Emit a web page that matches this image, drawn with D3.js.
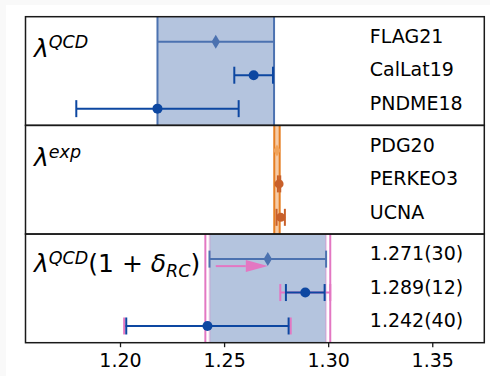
<!DOCTYPE html>
<html>
<head>
<meta charset="utf-8">
<script src="https://cdn.jsdelivr.net/npm/d3@7"></script>
<style>
  html, body { margin: 0; padding: 0; background: #f9f9f9; }
  svg { display: block; }
  text { font-family: "DejaVu Sans", sans-serif; fill: #000; }
</style>
</head>
<body>
<svg id="chart" width="490" height="376"></svg>
<script>
// ---- data ----------------------------------------------------------------
// lattice QCD determinations of g_A
const qcdNames = ["FLAG21", "CalLat19", "PNDME18"];
const qcdVals  = [1.246, 1.2642, 1.218];
const qcdErrs  = [0.028, 0.0093, 0.039];

// experimental lambda
const expNames = ["PDG20", "PERKEO3", "UCNA"];
const expVals  = [1.2754, 1.27641, 1.2772];
const expErrs  = [0.0013, 0.00056, 0.0020];

// lattice values including radiative correction
const rcLabels   = ["1.271(30)", "1.289(12)", "1.242(40)"];
const rcVals     = [1.271, 1.289, 1.242];
const rcQcdErrs  = [0.028, 0.0093, 0.039];   // lattice part only
const rcTotErrs  = [0.030, 0.012, 0.040];    // total uncertainty

const xTicks = [1.20, 1.25, 1.30, 1.35];
const xDomain = [1.1546, 1.375];

// ---- colours ---------------------------------------------------------------
const C_BLUE = "#4c72b0", C_DARK = "#0d47a1";
const C_ORANGE = "#e67e22", C_ORDARK = "#c8602a", C_ORLIGHT = "#f0a35c";
const C_PINK = "#e377c2";

// ---- layout ----------------------------------------------------------------
const svg = d3.select("#chart");
svg.append("rect").attr("x", 6).attr("y", 5).attr("width", 484).attr("height", 371).attr("fill", "#fff");

const L = 25.5, R = 484.3, T = 16.7, B = 342.7;
const panelH = (B - T) / 3;
const x = d3.scaleLinear().domain(xDomain).range([L, R]);
const labelX = x(1.32);

function panelY(i) {
  const top = T + i * panelH;
  return d3.scaleLinear().domain([-0.75, 2.5]).range([top, top + panelH]);
}

const capH = 8.5;

function errorbar(g, y, v, e, color, opts = {}) {
  const lw = opts.lw || 2;
  g.append("line").attr("x1", x(v - e)).attr("x2", x(v + e)).attr("y1", y).attr("y2", y)
    .attr("stroke", color).attr("stroke-width", lw);
  if (opts.caps !== false) {
    [v - e, v + e].forEach(c => g.append("line").attr("x1", x(c)).attr("x2", x(c))
      .attr("y1", y - capH).attr("y2", y + capH).attr("stroke", color).attr("stroke-width", lw));
  }
}
function marker(g, y, v, color, shape, size) {
  if (shape === "circle") {
    g.append("circle").attr("cx", x(v)).attr("cy", y).attr("r", size).attr("fill", color);
  } else {
    const w = size * 0.6, h = size;
    const cx = x(v);
    g.append("path").attr("d", `M${cx},${y - h}L${cx + w},${y}L${cx},${y + h}L${cx - w},${y}Z`).attr("fill", color);
  }
}
function band(g, i, lo, hi, fill, opacity, edge) {
  const top = T + i * panelH;
  g.append("rect").attr("x", x(lo)).attr("y", top).attr("width", x(hi) - x(lo)).attr("height", panelH)
    .attr("fill", fill).attr("fill-opacity", opacity);
  if (edge) {
    [lo, hi].forEach(c => g.append("line").attr("x1", x(c)).attr("x2", x(c)).attr("y1", top).attr("y2", top + panelH)
      .attr("stroke", edge.color).attr("stroke-width", edge.width).attr("stroke-opacity", edge.opacity || 1));
  }
}
function mathLabel(i, parts, dyBase) {
  const t = svg.append("text").attr("x", L + 8.5).attr("y", T + i * panelH + dyBase);
  parts.forEach(p => {
    const s = t.append("tspan").text(p.t).style("font-size", p.size + "px");
    if (p.italic) s.style("font-style", "italic");
    if (p.dy) s.attr("dy", p.dy);
  });
}

// ---- panel 1 : lattice QCD ------------------------------------------------
{
  const g = svg.append("g");
  const y = panelY(0);
  band(g, 0, qcdVals[0] - qcdErrs[0], qcdVals[0] + qcdErrs[0], C_BLUE, 0.42, { color: C_BLUE, width: 2 });
  errorbar(g, y(0), qcdVals[0], qcdErrs[0], C_BLUE, { caps: false });
  marker(g, y(0), qcdVals[0], C_BLUE, "diamond", 7);
  [1, 2].forEach(k => {
    errorbar(g, y(k), qcdVals[k], qcdErrs[k], C_DARK);
    marker(g, y(k), qcdVals[k], C_DARK, "circle", 5);
  });
  qcdNames.forEach((n, k) => svg.append("text").attr("x", labelX).attr("y", y(k) + 1).style("font-size", "19px").text(n));
}

// ---- panel 2 : experiment ---------------------------------------------------
{
  const g = svg.append("g");
  const y = panelY(1);
  band(g, 1, expVals[0] - expErrs[0], expVals[0] + expErrs[0], C_ORANGE, 0.4, { color: C_ORANGE, width: 2 });
  errorbar(g, y(0), expVals[0], expErrs[0], C_ORLIGHT, { caps: false });
  marker(g, y(0), expVals[0], C_ORLIGHT, "diamond", 6);
  [1, 2].forEach(k => {
    errorbar(g, y(k), expVals[k], expErrs[k], C_ORDARK);
    marker(g, y(k), expVals[k], C_ORDARK, "circle", 4.5);
  });
  expNames.forEach((n, k) => svg.append("text").attr("x", labelX).attr("y", y(k) + 1.5).style("font-size", "19px").text(n));
}

// ---- panel 3 : with radiative correction ------------------------------------
{
  const g = svg.append("g");
  const y = panelY(2);
  band(g, 2, rcVals[0] - rcQcdErrs[0], rcVals[0] + rcQcdErrs[0], C_BLUE, 0.42, { color: C_PINK, width: 2, opacity: 0.3 });
  // total uncertainty of the corrected average
  [rcVals[0] - rcTotErrs[0], rcVals[0] + rcTotErrs[0]].forEach(c =>
    g.append("line").attr("x1", x(c)).attr("x2", x(c)).attr("y1", T + 2 * panelH).attr("y2", B)
      .attr("stroke", C_PINK).attr("stroke-width", 2));

  errorbar(g, y(0), rcVals[0], rcQcdErrs[0], C_BLUE);
  marker(g, y(0), rcVals[0], C_BLUE, "diamond", 7);

  // shift from the uncorrected average
  const ay = y(0) + 7;
  const tip = x(rcVals[0]), headL = 22, headW = 6;
  g.append("line").attr("x1", x(qcdVals[0])).attr("x2", tip - headL).attr("y1", ay).attr("y2", ay)
    .attr("stroke", C_PINK).attr("stroke-width", 2);
  g.append("path").attr("d", `M${tip},${ay}L${tip - headL},${ay - headW}L${tip - headL},${ay + headW}Z`).attr("fill", C_PINK);

  [1, 2].forEach(k => {
    errorbar(g, y(k), rcVals[k], rcTotErrs[k], C_PINK);
    errorbar(g, y(k), rcVals[k], rcQcdErrs[k], C_DARK);
    marker(g, y(k), rcVals[k], C_DARK, "circle", 5);
  });
  rcLabels.forEach((n, k) => svg.append("text").attr("x", labelX).attr("y", y(k) + 1).style("font-size", "19px").text(n));
}

// ---- panel titles -------------------------------------------------------------
const base = 25, sup = 17.5;
mathLabel(0, [{ t: "λ", size: base, italic: true }, { t: "QCD", size: sup, italic: true, dy: -8.5 }], 40);
mathLabel(1, [{ t: "λ", size: base, italic: true }, { t: "exp", size: sup, italic: true, dy: -8.5 }], 40.7);
mathLabel(2, [
  { t: "λ", size: base, italic: true },
  { t: "QCD", size: sup, italic: true, dy: -8.5 },
  { t: "(1 + ", size: base, dy: 8.5 },
  { t: "δ", size: base, italic: true },
  { t: "RC", size: sup, italic: true, dy: 5 },
  { t: ")", size: base, dy: -5 }
], 38);

// ---- frames ---------------------------------------------------------------------
for (let i = 0; i < 3; i++) {
  svg.append("rect").attr("x", L).attr("y", T + i * panelH).attr("width", R - L).attr("height", panelH)
    .attr("fill", "none").attr("stroke", "#1a1a1a").attr("stroke-width", 1.5);
}

// ---- x axis -------------------------------------------------------------------------
const ax = svg.append("g").attr("transform", `translate(0,${B})`)
  .call(d3.axisBottom(x).tickValues(xTicks).tickFormat(d3.format(".2f")).tickSize(4.5));
ax.select(".domain").remove();
ax.selectAll(".tick line").attr("stroke", "#1a1a1a").attr("stroke-width", 1.3);
ax.selectAll(".tick text").attr("y", 24.6).attr("dy", null)
  .style("font-size", "19px").style("font-family", "DejaVu Sans, sans-serif").attr("fill", "#000");
</script>
</body>
</html>
